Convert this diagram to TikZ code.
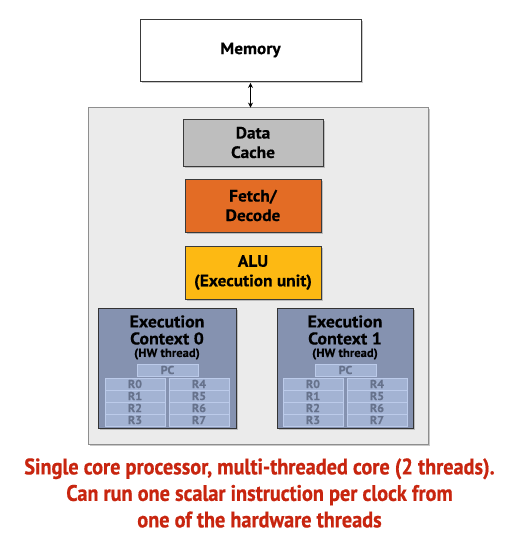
\documentclass[tikz,border=0pt]{standalone}
\usepackage{fontspec}
\setmainfont{PT Sans}[BoldFont={PT Sans Bold},BoldFeatures={FakeBold=0.3,FakeStretch=1.05}]
\newfontfamily\condfont{PT Sans Bold}[FakeStretch=0.9,FakeBold=0.6]
\usetikzlibrary{shadows,arrows.meta}
\definecolor{coregray}{HTML}{EBEBEB}
\definecolor{coreline}{HTML}{8E8E8E}
\definecolor{cachegray}{HTML}{BEBEBE}
\definecolor{fetchorange}{HTML}{E36C25}
\definecolor{aluyellow}{HTML}{FDB913}
\definecolor{ctxfill}{HTML}{8592B0}
\definecolor{regfill}{HTML}{A3B3D3}
\definecolor{regline}{HTML}{BCCBEA}
\definecolor{regtext}{HTML}{66728C}
\definecolor{boxline}{HTML}{3A3A3A}
\definecolor{captionred}{HTML}{C8250F}
\tikzset{
  x=1pt,y=-1pt,
  shad/.style={drop shadow={opacity=0.35,shadow xshift=1.5pt,shadow yshift=-1.5pt,fill=black!60}},
  unitbox/.style={draw=boxline,line width=0.9pt,inner sep=0pt,align=center,
    font=\fontsize{16.5}{19.5}\selectfont\bfseries,shad},
  ctxbox/.style={draw=black!80,line width=0.9pt,fill=ctxfill,inner sep=0pt,shad},
  regbox/.style={draw=regline,line width=0.7pt,fill=regfill,inner sep=0pt,
    minimum width=60pt,minimum height=12pt,text=regtext,
    font=\fontsize{11.5}{12}\selectfont\bfseries},
  ctxtitle/.style={inner sep=0pt,align=center,font=\fontsize{17}{17}\selectfont\bfseries},
  hwlabel/.style={inner sep=0pt,font=\fontsize{12}{12}\selectfont\bfseries},
}
\begin{document}
\begin{tikzpicture}
\useasboundingbox[fill=white] (0,0) rectangle (532,554);
% memory
\node[unitbox,fill=white,minimum width=221pt,minimum height=62pt] (mem) at (250.5,50) {Memory};
% core
\node[draw=coreline,line width=0.9pt,fill=coregray,minimum width=340pt,minimum height=337pt,inner sep=0pt,shad] (core) at (258,275.5) {};
\draw[{Stealth[length=5pt,width=5pt]}-{Stealth[length=5pt,width=5pt]},line width=0.9pt] ([yshift=-1.5pt]mem.south) -- ([yshift=-1pt]mem.south |- core.north);
% units
\node[unitbox,fill=cachegray,minimum width=140pt,minimum height=47pt] (cache) at (253,142.5) {Data\\Cache};
\node[unitbox,fill=fetchorange,minimum width=136pt,minimum height=53pt] (fetch) at (253,205.5) {Fetch/\\Decode};
\node[unitbox,fill=aluyellow,minimum width=136pt,minimum height=53pt] (alu) at (253,272.5) {ALU\\(Execution unit)};
% contexts
\foreach \i/\cx/\w in {0/167/138,1/345/136}{
  \node[ctxbox,minimum width=\w pt,minimum height=120pt] (ctx\i) at (\cx,368.5) {};
  \node[ctxtitle] (ttl\i) at (\cx,330) {Execution\\Context \i};
  \node[hwlabel] (hw\i) at (\cx,354) {(HW thread)};
  \node[regbox,minimum width=61pt] (pc\i) at (\cx+0.5,370) {PC};
  \foreach \r in {0,1,2,3}{
    \pgfmathtruncatemacro{\rr}{\r+4}
    \node[regbox] (rl\i\r) at (\cx-32,384+12*\r) {R\r};
    \node[regbox] (rr\i\r) at (\cx+32,384+12*\r) {R\rr};
  }
}
% caption
\node[inner sep=0pt,align=center,text=captionred,font=\condfont\fontsize{22.5}{26.5}\selectfont] (cap) at (259.5,493)
  {Single core processor, multi-threaded core (2 threads).\\Can run one scalar instruction per clock from\\one of the hardware threads};
\end{tikzpicture}
\end{document}
